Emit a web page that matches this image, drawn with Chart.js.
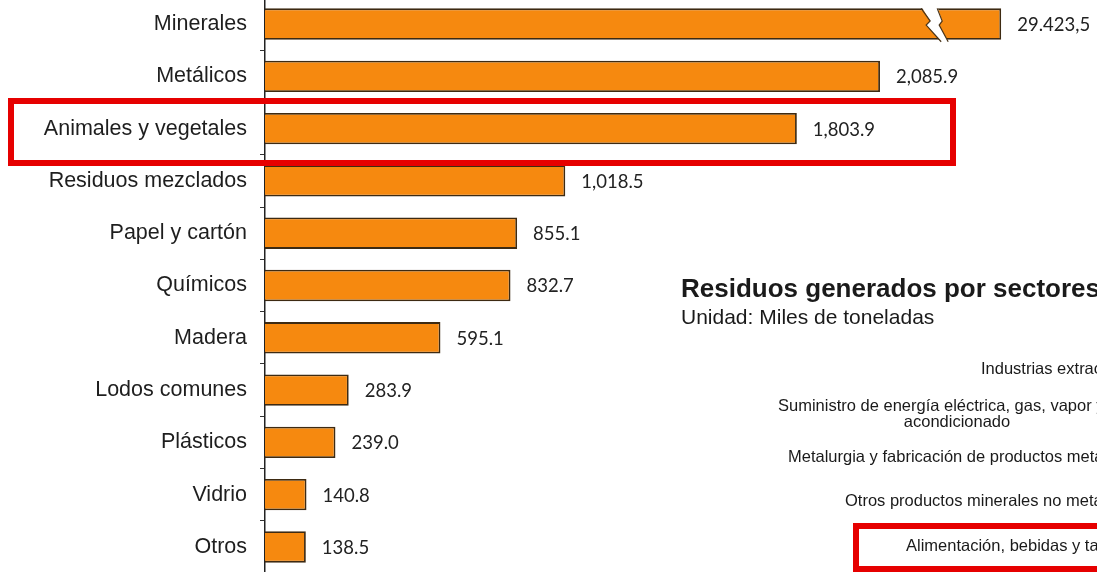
<!DOCTYPE html>
<html>
<head>
<meta charset="utf-8">
<script src="https://cdn.jsdelivr.net/npm/chart.js@4/dist/chart.umd.min.js"></script>
<style>
  html, body { margin: 0; padding: 0; background: #fff; overflow: hidden; width: 1097px; height: 572px; }
  #wrap { position: relative; width: 1097px; height: 572px; overflow: hidden; }
  #myChart1 { position: absolute; left: 0; top: -28px; }
  .txt { position: absolute; white-space: nowrap; font-family: "Liberation Sans", Arial, sans-serif; color: #1a1a1a; line-height: 1; }
  .title { left: 681px; top: 275px; font-size: 26px; font-weight: bold; }
  .sub { left: 681px; top: 306px; font-size: 21px; }
  .lbl { font-size: 16.5px; }
  .box { position: absolute; border: 6px solid #e60000; box-sizing: border-box; }
</style>
</head>
<body>
<div id="wrap">
  <canvas id="myChart1" width="1097" height="627"></canvas>

  <div class="txt title">Residuos generados por sectores</div>
  <div class="txt sub">Unidad: Miles de toneladas</div>
  <div class="txt lbl" style="left:981px; top:360px;">Industrias extractivas</div>
  <div class="txt lbl" style="left:778px; top:397px;">Suministro de energía eléctrica, gas, vapor y aire</div>
  <div class="txt lbl" style="left:857px; top:413px; width:200px; text-align:center;">acondicionado</div>
  <div class="txt lbl" style="left:788px; top:448px;">Metalurgia y fabricación de productos metálicos</div>
  <div class="txt lbl" style="left:845px; top:492px;">Otros productos minerales no metálicos</div>
  <div class="txt lbl" style="left:906px; top:537px;">Alimentación, bebidas y tabaco</div>

  <div class="box" style="left:8px; top:98px; width:948px; height:68px;"></div>
  <div class="box" style="left:853px; top:523px; width:300px; height:49px;"></div>
</div>

<script>
  const categories = ['Minerales', 'Metálicos', 'Animales y vegetales', 'Residuos mezclados',
    'Papel y cartón', 'Químicos', 'Madera', 'Lodos comunes', 'Plásticos', 'Vidrio', 'Otros'];
  const residuos = [29423.5, 2085.9, 1803.9, 1018.5, 855.1, 832.7, 595.1, 283.9, 239.0, 140.8, 138.5];

  // the first bar is far off scale, so it is drawn cut at this value with a break mark
  const breakAt = 2497;
  const xMax = 2822;

  const shown = residuos.map(v => Math.min(v, breakAt));

  function fmt(v) {
    if (v > breakAt) {
      return v.toLocaleString('de-DE', { minimumFractionDigits: 1, maximumFractionDigits: 1 });
    }
    return v.toLocaleString('en-US', { minimumFractionDigits: 1, maximumFractionDigits: 1 });
  }

  const barExtras = {
    id: 'barExtras',
    afterDatasetsDraw(chart) {
      const ctx = chart.ctx;
      const meta = chart.getDatasetMeta(0);
      ctx.save();
      meta.data.forEach((bar, i) => {
        const v = residuos[i];
        if (v > breakAt) {
          // zigzag gap in the cut bar
          const cx = bar.x - 70;
          const top = bar.y - bar.height / 2 - 2;
          const bot = bar.y + bar.height / 2 + 2;
          const cy = bar.y;
          const left = [[cx - 10, top], [cx - 1, cy - 3], [cx - 5, cy + 1], [cx + 10, bot]];
          const right = [[cx + 6, top], [cx + 11, cy - 3], [cx + 8, cy + 1], [cx + 17, bot]];
          ctx.fillStyle = '#fff';
          ctx.beginPath();
          left.forEach((p, k) => k ? ctx.lineTo(p[0], p[1]) : ctx.moveTo(p[0], p[1]));
          right.slice().reverse().forEach(p => ctx.lineTo(p[0], p[1]));
          ctx.closePath();
          ctx.fill();
          ctx.strokeStyle = '#4a3418';
          ctx.lineWidth = 1.2;
          [left, right].forEach(edge => {
            ctx.beginPath();
            edge.forEach((p, k) => k ? ctx.lineTo(p[0], p[1]) : ctx.moveTo(p[0], p[1] + 2));
            ctx.stroke();
          });
        }
        ctx.fillStyle = '#222';
        ctx.font = '18.5px Lato, "Open Sans", sans-serif';
        ctx.textBaseline = 'middle';
        ctx.textAlign = 'left';
        ctx.fillText(fmt(v), bar.x + 16, bar.y + 1);
      });
      ctx.restore();
    }
  };

  const ctx = document.getElementById('myChart1').getContext('2d');
  const myChart = new Chart(ctx, {
    type: 'bar',
    data: {
      labels: categories,
      datasets: [
        {
          label: 'Residuos',
          data: shown,
          backgroundColor: '#f6890f',
          borderColor: '#3d2a12',
          borderWidth: 1.8,
          borderSkipped: 'left',
          barPercentage: 0.6,
          categoryPercentage: 1.0
        }
      ]
    },
    options: {
      indexAxis: 'y',
      responsive: false,
      animation: false,
      plugins: {
        legend: { display: false },
        tooltip: { enabled: false }
      },
      scales: {
        x: {
          display: false,
          min: 0,
          max: xMax
        },
        y: {
          afterFit(scale) { scale.width = 265; },
          grid: {
            display: true,
            drawOnChartArea: false,
            drawTicks: true,
            tickLength: 5,
            color: '#333',
            offset: true
          },
          border: { display: true, color: '#222', width: 1.5 },
          ticks: {
            color: '#1e1e1e',
            padding: 13,
            font: { family: '"Liberation Sans", Arial, sans-serif', size: 21.5 }
          }
        }
      }
    },
    plugins: [barExtras]
  });
</script>
</body>
</html>
